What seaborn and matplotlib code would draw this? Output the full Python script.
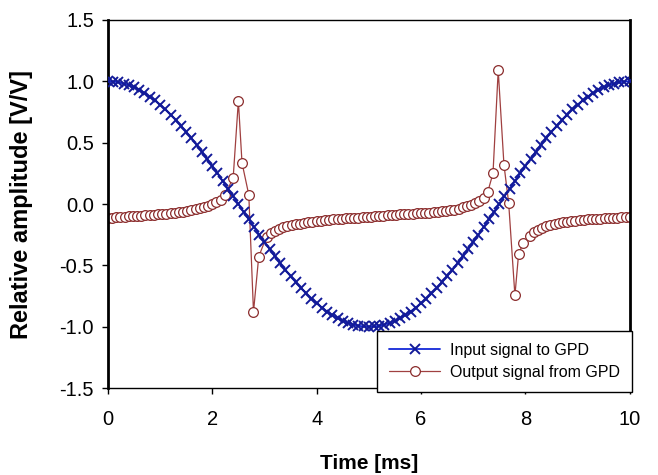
import matplotlib
matplotlib.use("Agg")
import matplotlib.pyplot as plt
import seaborn as sns
import pandas as pd

# ---- data ----
input_time = [round(0.1 * k, 1) for k in range(101)]
input_amp = [
    1.000, 0.998, 0.992, 0.982, 0.969, 0.951, 0.930, 0.905, 0.876, 0.844,
    0.809, 0.771, 0.729, 0.685, 0.637, 0.588, 0.536, 0.482, 0.426, 0.368,
    0.309, 0.249, 0.187, 0.125, 0.063, 0.000, -0.063, -0.125, -0.187, -0.249,
    -0.309, -0.368, -0.426, -0.482, -0.536, -0.588, -0.637, -0.685, -0.729, -0.771,
    -0.809, -0.844, -0.876, -0.905, -0.930, -0.951, -0.969, -0.982, -0.992, -0.998,
    -1.000, -0.998, -0.992, -0.982, -0.969, -0.951, -0.930, -0.905, -0.876, -0.844,
    -0.809, -0.771, -0.729, -0.685, -0.637, -0.588, -0.536, -0.482, -0.426, -0.368,
    -0.309, -0.249, -0.187, -0.125, -0.063, 0.000, 0.063, 0.125, 0.187, 0.249,
    0.309, 0.368, 0.426, 0.482, 0.536, 0.588, 0.637, 0.685, 0.729, 0.771,
    0.809, 0.844, 0.876, 0.905, 0.930, 0.951, 0.969, 0.982, 0.992, 0.998,
    1.000,
]

output_time = [
    0.00, 0.08, 0.16, 0.24, 0.32, 0.40, 0.48, 0.56, 0.64, 0.72,
    0.80, 0.88, 0.96, 1.04, 1.12, 1.20, 1.28, 1.36, 1.44, 1.52,
    1.60, 1.68, 1.76, 1.84, 1.92, 2.00, 2.08, 2.16, 2.24,
    2.40, 2.50, 2.57, 2.70, 2.79, 2.89,
    3.04, 3.12, 3.20, 3.28, 3.36, 3.44, 3.52, 3.60, 3.68, 3.76,
    3.84, 3.92, 4.00, 4.08, 4.16, 4.24, 4.32, 4.40, 4.48, 4.56,
    4.64, 4.72, 4.80, 4.88, 4.96, 5.04, 5.12, 5.20, 5.28, 5.36,
    5.44, 5.52, 5.60, 5.68, 5.76, 5.84, 5.92, 6.00, 6.08, 6.16,
    6.24, 6.32, 6.40, 6.48, 6.56, 6.64, 6.72, 6.80, 6.88, 6.96,
    7.04, 7.12, 7.20, 7.28,
    7.38, 7.48, 7.59, 7.68, 7.80, 7.87, 7.96,
    8.08, 8.16, 8.24, 8.32, 8.40, 8.48, 8.56, 8.64, 8.72, 8.80,
    8.88, 8.96, 9.04, 9.12, 9.20, 9.28, 9.36, 9.44, 9.52, 9.60,
    9.68, 9.76, 9.84, 9.92, 10.00,
]
output_amp = [
    -0.110, -0.110, -0.108, -0.105, -0.102, -0.100, -0.098, -0.096, -0.094, -0.091,
    -0.089, -0.087, -0.085, -0.082, -0.079, -0.076, -0.072, -0.068, -0.063, -0.058,
    -0.050, -0.043, -0.034, -0.024, -0.014, -0.002, 0.015, 0.035, 0.075,
    0.210, 0.840, 0.335, 0.075, -0.880, -0.430,
    -0.265, -0.238, -0.218, -0.202, -0.191, -0.181, -0.172, -0.166, -0.160, -0.155,
    -0.150, -0.145, -0.140, -0.136, -0.132, -0.129, -0.125, -0.122, -0.119, -0.117,
    -0.115, -0.112, -0.110, -0.107, -0.105, -0.102, -0.100, -0.097, -0.095, -0.092,
    -0.090, -0.087, -0.085, -0.083, -0.081, -0.079, -0.077, -0.075, -0.072, -0.070,
    -0.067, -0.064, -0.060, -0.056, -0.051, -0.045, -0.037, -0.028, -0.018, -0.006,
    0.010, 0.028, 0.052, 0.100,
    0.250, 1.090, 0.320, 0.010, -0.745, -0.410, -0.315,
    -0.262, -0.232, -0.212, -0.196, -0.182, -0.171, -0.162, -0.156, -0.150, -0.145,
    -0.140, -0.136, -0.132, -0.129, -0.126, -0.123, -0.121, -0.119, -0.117, -0.115,
    -0.113, -0.111, -0.109, -0.107, -0.105,
]

x_ticks = [0, 2, 4, 6, 8, 10]
y_ticks = [-1.5, -1.0, -0.5, 0.0, 0.5, 1.0, 1.5]
y_tick_labels = ["-1.5", "-1.0", "-0.5", "0.0", "0.5", "1.0", "1.5"]

input_label = "Input signal to GPD"
output_label = "Output signal from GPD"

df_in = pd.DataFrame({"t": input_time, "v": input_amp})
df_out = pd.DataFrame({"t": output_time, "v": output_amp})

sns.set_style("ticks")
plt.rcParams["font.family"] = ["Liberation Sans", "DejaVu Sans"]

fig = plt.figure(figsize=(6.58, 4.75), dpi=100)
ax = fig.add_axes([0.164, 0.183, 0.793, 0.775])

sns.lineplot(data=df_out, x="t", y="v", ax=ax, sort=False, estimator=None,
             color="#a04040", linewidth=0.9, marker="o", markersize=7,
             markerfacecolor="white", markeredgecolor="#8b2c2c",
             markeredgewidth=0.9, label=output_label, zorder=2)
sns.lineplot(data=df_in, x="t", y="v", ax=ax, sort=False, estimator=None,
             color="#1428d8", linewidth=1.3, marker="x", markersize=6.5,
             markeredgecolor="#121a98", markeredgewidth=1.4,
             label=input_label, zorder=3)

ax.set_xlim(0, 10)
ax.set_ylim(-1.5, 1.5)
ax.set_xticks(x_ticks)
ax.set_yticks(y_ticks)
ax.set_yticklabels(y_tick_labels)
ax.tick_params(axis="both", labelsize=14.5, direction="out", length=4,
               width=1, color="black", labelcolor="black")
ax.tick_params(axis="x", pad=12)
ax.tick_params(axis="y", pad=6)
ax.set_xlabel("Time [ms]", fontsize=15, fontweight="bold", labelpad=18,
              color="black")
ax.set_ylabel("Relative amplitude [V/V]", fontsize=17, fontweight="bold",
              labelpad=19, color="black")

for side in ["left", "right"]:
    ax.spines[side].set_linewidth(2.0)
    ax.spines[side].set_color("black")
for side in ["top", "bottom"]:
    ax.spines[side].set_linewidth(1.0)
    ax.spines[side].set_color("black")

handles, labels = ax.get_legend_handles_labels()
order = [labels.index(input_label), labels.index(output_label)]
leg = ax.legend([handles[i] for i in order], [labels[i] for i in order],
                loc="lower right", bbox_to_anchor=(1.004, -0.01),
                borderaxespad=0, fontsize=11.5, frameon=True, fancybox=False,
                edgecolor="black", handlelength=3.2, handletextpad=0.6,
                borderpad=0.75, labelspacing=0.45, labelcolor="black")
leg.get_frame().set_linewidth(1.0)
leg.get_frame().set_alpha(1)

fig.savefig("out.png", dpi=100, facecolor="white")
